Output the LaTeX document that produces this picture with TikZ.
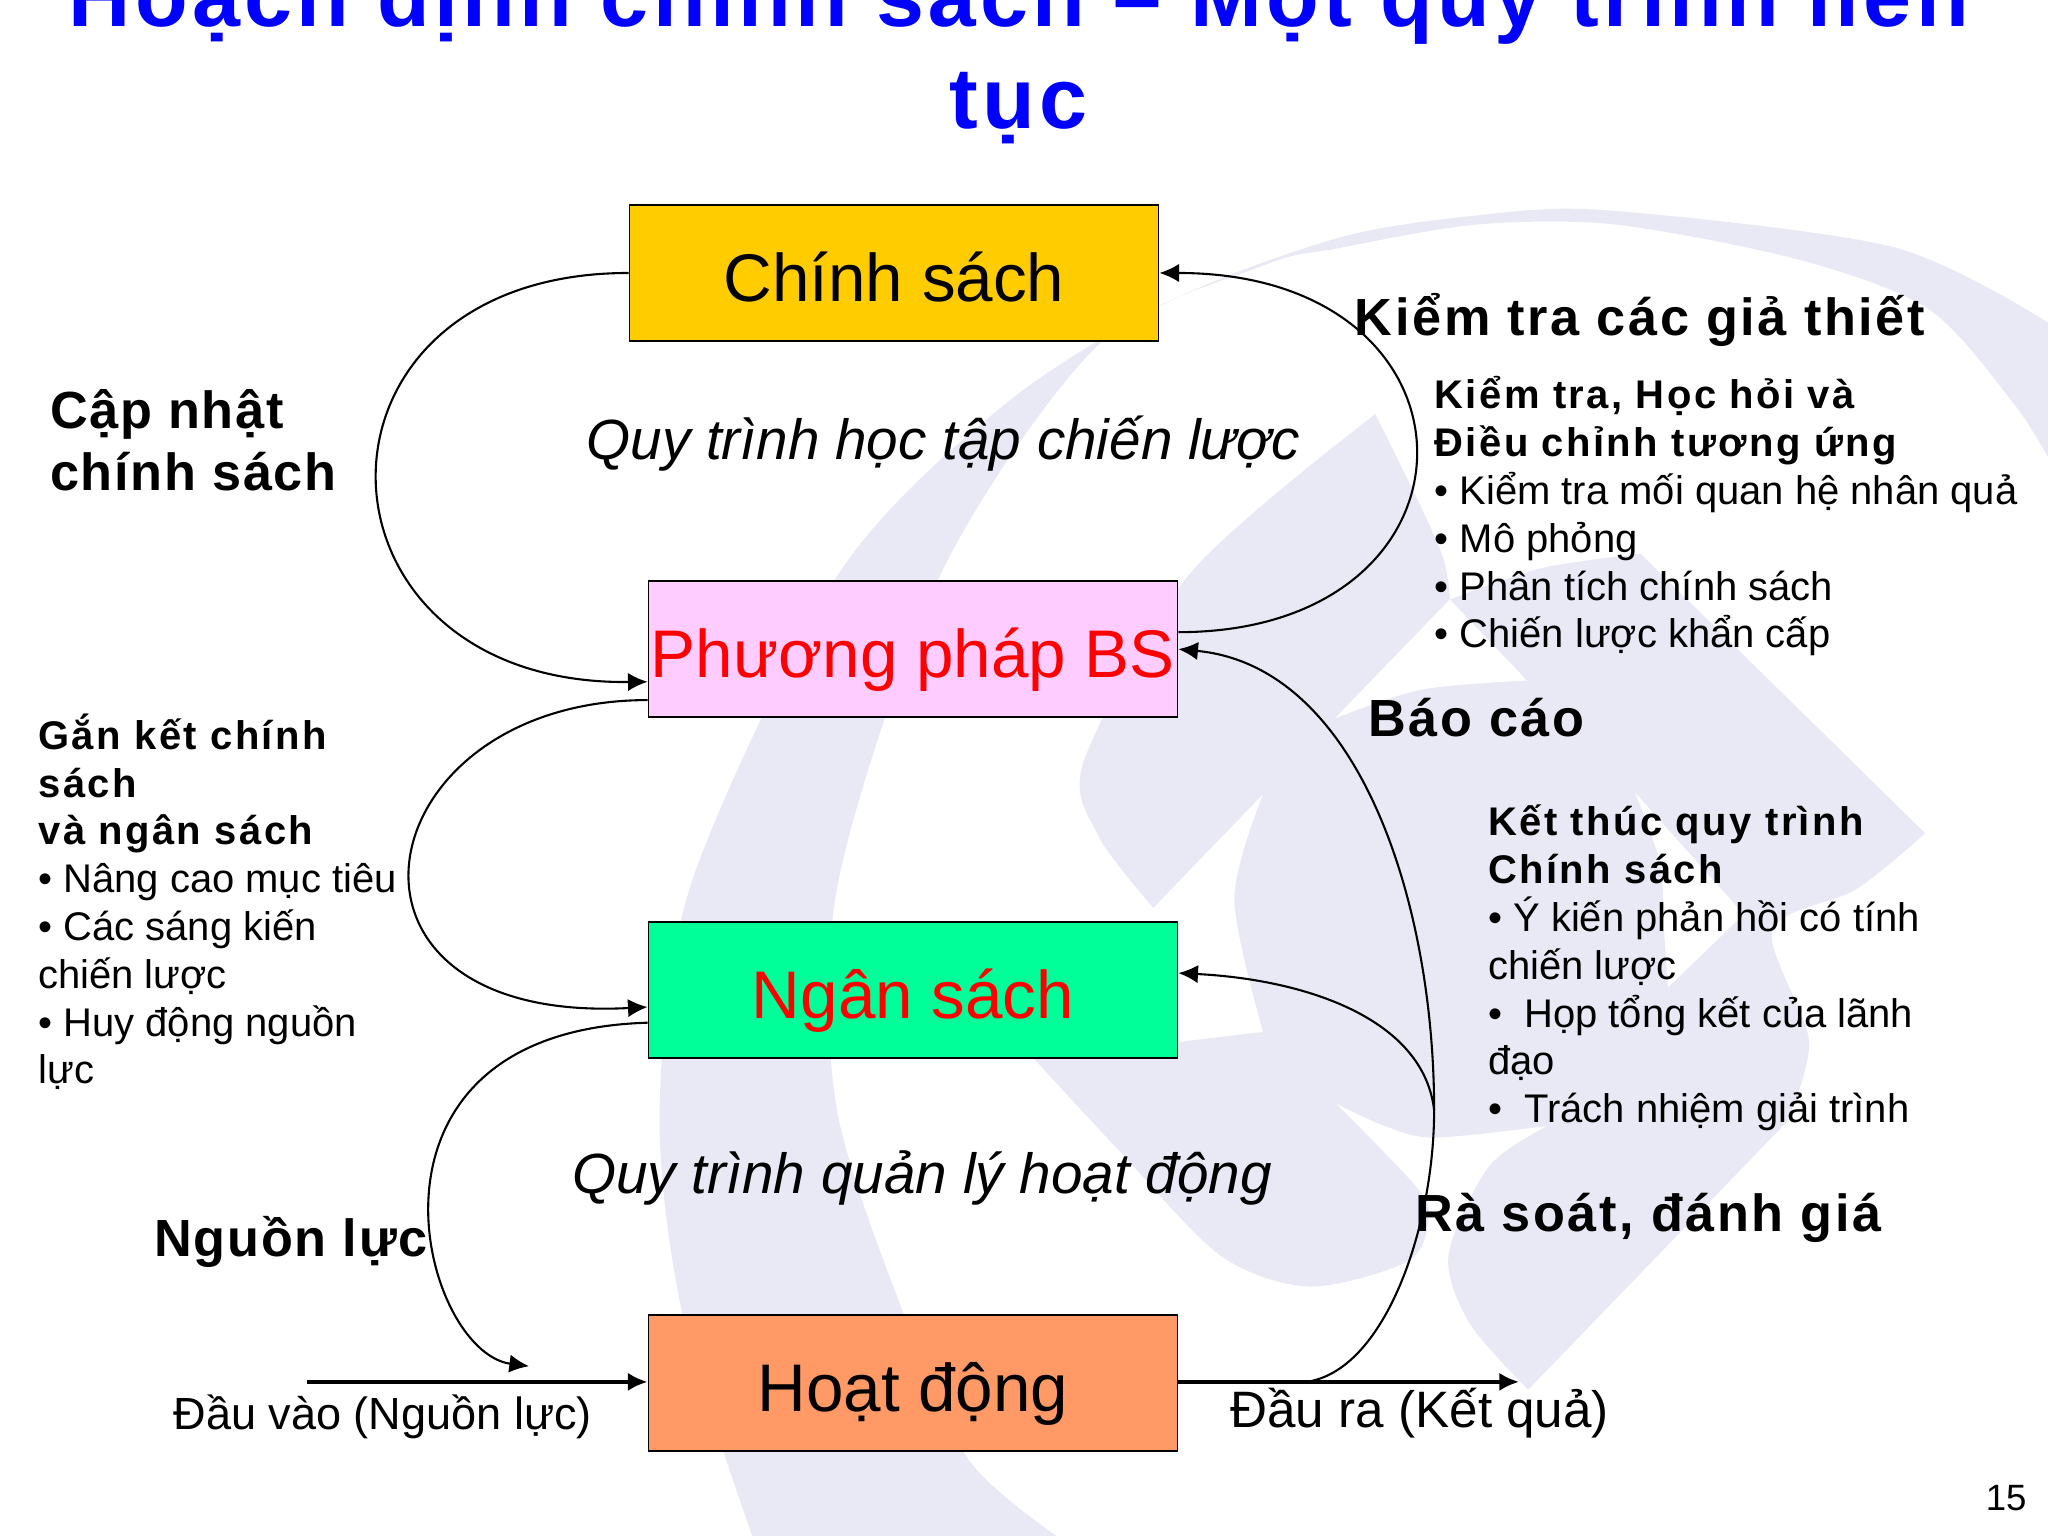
\documentclass[tikz,border=0pt]{standalone}
\usepackage{fontspec}
\setmainfont{Liberation Sans}
\newfontfamily\spaced[LetterSpace=5]{Liberation Sans}
\newfontfamily\spacedleft[LetterSpace=3.2]{Liberation Sans}
\newfontfamily\spacedsub[LetterSpace=6]{Liberation Sans}
\newfontfamily\spacedtitle[LetterSpace=5]{Liberation Sans}
\usetikzlibrary{arrows.meta}
\definecolor{nen}{HTML}{E9E9F5}
\tikzset{
  hop/.style={draw, line width=0.7pt, minimum width=202.5pt, minimum height=52pt, inner sep=0pt, text height=22pt, text depth=0pt, font=\fontsize{25.8}{30}\selectfont},
  chu/.style={anchor=north west, inner sep=0pt, align=left, font=\fontsize{15.3}{18.3}\selectfont},
  tieude/.style={anchor=north west, inner sep=0pt, align=left, font=\fontsize{20}{23.5}\selectfont\spaced\bfseries},
  tieudetrai/.style={tieude, font=\fontsize{20}{23.5}\selectfont\spacedleft\bfseries},
  nghieng/.style={inner sep=0pt, font=\fontsize{21.7}{25}\selectfont\itshape},
  cong/.style={line width=0.8pt, -{Latex[length=7.5pt,width=7pt]}},
  day/.style={line width=1.5pt, -{Latex[length=7.5pt,width=7pt]}}
}
\newcommand{\dam}[1]{{\spacedsub\bfseries #1}}
\begin{document}
\begin{tikzpicture}[x=0.5pt,y=-0.5pt]
\useasboundingbox (0,0) rectangle (1568,1176);
% nen
\fill[nen] plot[smooth] coordinates {(576,1176) (523,1009) (505,850) (530,674) (643,438) (770,309) (897,230) (1025,182) (1130,165) (1230,161) (1449,189) (1568,247)}
  -- plot[smooth] coordinates {(1568,350) (1541,308) (1477,237) (1378,199) (1237,172) (1130,172) (1025,190) (968,203) (841,264) (721,438) (642,674) (640,845) (693,1009) (742,1118) (809,1176)} -- cycle;
\fill[nen] plot[smooth] coordinates {(1053,317) (1102,419) (1110,459)}
  -- plot[smooth] coordinates {(1110,459) (1180,435) (1256,424)} -- (1474,638)
  -- plot[smooth] coordinates {(1474,638) (1421,681) (1357,712) (1385,797) (1368,859)} -- (1170,1064)
  -- plot[smooth] coordinates {(1170,1064) (1125,1013) (1109,961) (1140,893) (1185,862)}
  -- plot[smooth] coordinates {(1185,862) (1098,871) (1060,862) (1023,845)}
  -- plot[smooth] coordinates {(1023,845) (1083,907) (1094,930) (1079,965) (1003,985) (934,961) (855,879) (792,811)}
  -- (967,790) -- plot[smooth] coordinates {(967,790) (945,688) (967,608)} -- (883,695)
  -- plot[smooth] coordinates {(883,695) (841,640) (830,582) (912,438) (1053,317)} -- cycle;
\fill[white] plot[smooth] coordinates {(1252,607) (1271,661) (1274,712) (1277,756)} -- (1335,700) -- cycle;
\fill[white] (1110,459) -- (1169,521) -- plot[smooth] coordinates {(1169,521) (1088,528) (1022,550)} -- cycle;
% tieu de
\node (title) [anchor=north, inner sep=0pt, align=center, text=blue, font=\fontsize{33}{39}\selectfont\spacedtitle\bfseries] at (780,-29) {Hoạch định chính sách – Một quy trình liên\\tục};
% hop
\node (chinhsach) [hop, fill={rgb,255:red,255;green,204;blue,0}] at (684.5,209) {Chính sách};
\node (phuongphap) [hop, fill={rgb,255:red,255;green,204;blue,255}, text=red] at (699,497) {Phương pháp BS};
\node (ngansach) [hop, fill={rgb,255:red,0;green,255;blue,153}, text=red] at (699,758) {Ngân sách};
\node (hoatdong) [hop, fill={rgb,255:red,255;green,153;blue,102}] at (699,1059) {Hoạt động};
% chu
\node (hoctap) [nghieng] at (722,340) {Quy trình học tập chiến lược};
\node (quanly) [nghieng] at (706,902) {Quy trình quản lý hoạt động};
\node (capnhat) [tieudetrai] at (38,298) {Cập nhật\\chính sách};
\node (kiemtra) [tieude] at (1037,224) {Kiểm tra các giả thiết};
\node (baocao) [tieude] at (1047,534) {Báo cáo};
\node (rasoat) [tieude] at (1083,913) {Rà soát, đánh giá};
\node (nguonluc) [tieudetrai] at (118,931) {Nguồn lực};
\node (dauvao) [inner sep=0pt, font=\fontsize{17.25}{21}\selectfont] at (293,1085) {Đầu vào (Nguồn lực)};
\node (daura) [inner sep=0pt, font=\fontsize{19.6}{22}\selectfont] at (1087,1082) {Đầu ra (Kết quả)};
\node (trang) [inner sep=0pt, font=\fontsize{14}{16}\selectfont] at (1536,1147) {15};
\node (gan) [chu] at (29,546) {\dam{Gắn kết chính}\\\dam{sách}\\\dam{và ngân sách}\\• Nâng cao mục tiêu\\• Các sáng kiến\\chiến lược\\• Huy động nguồn\\lực};
\node (hochoi) [chu] at (1098,288) {\dam{Kiểm tra, Học hỏi và}\\\dam{Điều chỉnh tương ứng}\\• Kiểm tra mối quan hệ nhân quả\\• Mô phỏng\\• Phân tích chính sách\\• Chiến lược khẩn cấp};
\node (ketthuc) [chu] at (1139,616) {\dam{Kết thúc quy trình}\\\dam{Chính sách}\\• Ý kiến phản hồi có tính\\chiến lược\\•\ \ Họp tổng kết của lãnh\\đạo\\•\ \ Trách nhiệm giải trình};
% mui ten
\coordinate (vao) at (235,1058);
\coordinate (ra) at (1163,1058);
\coordinate (phanhoi) at (1000,1058);
\coordinate (re) at (1098,850);
\coordinate (nguon) at (405,1046);
\draw[cong] (chinhsach.west) .. controls (219,209) and (227,525) .. ([yshift=-12.5pt]phuongphap.west);
\draw[cong] ([yshift=6.5pt]phuongphap.east) .. controls (1146,484) and (1146,209) .. (chinhsach.east);
\draw[cong] ([yshift=-19.5pt]phuongphap.west) .. controls (278,536) and (232,785) .. ([yshift=-6.5pt]ngansach.west);
\draw[cong] ([yshift=-12.5pt]ngansach.west) .. controls (258,790) and (322,1035) .. (nguon);
\draw[day] (vao) -- (hoatdong.west |- vao);
\draw[day] (hoatdong.east |- ra) -- (ra);
\draw[cong] (phanhoi) .. controls (1060,1050) and (1098,940) .. (re) .. controls (1098,690) and (1040,510) .. (phuongphap.east);
\draw[cong] (re) .. controls (1090,780) and (1000,750) .. ([yshift=6.5pt]ngansach.east);
\end{tikzpicture}
\end{document}
